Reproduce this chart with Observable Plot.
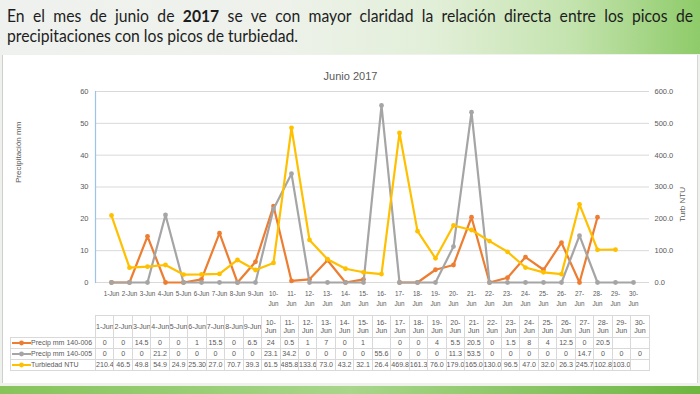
<!DOCTYPE html>
<html><head><meta charset="utf-8">
<script src="https://cdn.jsdelivr.net/npm/d3@7"></script>
<script src="https://cdn.jsdelivr.net/npm/@observablehq/plot@0.6"></script>
<style>
html,body{margin:0;padding:0;}
body{width:700px;height:394px;position:relative;overflow:hidden;background:#eef1ec;font-family:"Liberation Sans",sans-serif;}
#header{position:absolute;left:0;top:0;width:700px;height:54px;background:linear-gradient(to right,#eff1ee 0%,#eef2eb 40%,#e2efd8 62%,#c3e3ad 82%,#8ecb69 100%);}
.hl{position:absolute;left:7px;white-space:nowrap;font-family:Lato,"Open Sans",sans-serif;font-size:17px;color:#1d1d1d;transform-origin:0 0;}
#l1{top:5px} #l2{top:25px}
#panel{position:absolute;left:2px;top:55px;width:694px;height:328px;background:#fff;border-left:1px solid #cfcfcf;border-right:1px solid #d6d6d6;}
#band{position:absolute;left:0;top:386px;width:700px;height:8px;background:linear-gradient(to right,#86c45a,#a8d68a 50%,#6db640);}
#chart{position:absolute;left:0;top:56px;}
#tbl{position:absolute;left:10px;top:315px;border-collapse:collapse;table-layout:fixed;font-size:7.1px;color:#595959;}
#tbl td{border:1px solid #d9d9d9;text-align:center;padding:0;height:10px;line-height:8px;white-space:nowrap;overflow:hidden;}
#tbl tr.hd td{height:21px;}
#tbl td.blank{border:none;}
#tbl td.lab{text-align:left;padding-left:1px;font-size:7px;}
#tbl td.lab svg{vertical-align:middle;margin-right:0px;}
</style></head>
<body>
<div id="header"></div>
<div class="hl" id="l1">En el mes de junio de <b>2017</b> se ve con mayor claridad la relación directa entre los picos de</div>
<div class="hl" id="l2">precipitaciones con los picos de turbiedad.</div>
<div id="panel"></div>
<div id="band"></div>
<div id="chart"></div>
<table id="tbl"></table>
<script>
const days = ["1-Jun","2-Jun","3-Jun","4-Jun","5-Jun","6-Jun","7-Jun","8-Jun","9-Jun","10-Jun","11-Jun","12-Jun","13-Jun","14-Jun","15-Jun","16-Jun","17-Jun","18-Jun","19-Jun","20-Jun","21-Jun","22-Jun","23-Jun","24-Jun","25-Jun","26-Jun","27-Jun","28-Jun","29-Jun","30-Jun"];
const precip006 = ["0","0","14.5","0","0","1","15.5","0","6.5","24","0.5","1","7","0","1","","0","0","4","5.5","20.5","0","1.5","8","4","12.5","0","20.5","",""];
const precip005 = ["0","0","0","21.2","0","0","0","0","0","23.1","34.2","0","0","0","0","55.6","0","0","0","11.3","53.5","0","0","0","0","0","14.7","0","0","0"];
const turbiedad = ["210.4","46.5","49.8","54.9","24.9","25.30","27.0","70.7","39.3","61.5","485.8","133.6","73.0","43.2","32.1","26.4","469.8","161.3","76.0","179.0","165.0","130.0","96.5","47.0","32.0","26.3","245.7","102.8","103.0",""];
const precipTicks = [0,10,20,30,40,50,60];
const turbTicks = [0,100,200,300,400,500,600];
const seriesNames = ["Precip mm 140-006","Precip mm 140-005","Turbiedad NTU"];
const seriesColors = ["#ED7D31","#A5A5A5","#FFC000"];
const chartTitle = "Junio 2017";
const leftTitle = "Precipitación mm";
const rightTitle = "Turb NTU";

// header text fitting
(function(){
  const l1 = document.getElementById("l1"), l2 = document.getElementById("l2");
  const w2 = l2.getBoundingClientRect().width;
  const s = 291 / w2;
  const w1 = l1.getBoundingClientRect().width;
  const spaces = (l1.textContent.match(/ /g)||[]).length;
  l1.style.wordSpacing = ((686 / s - w1) / spaces) + "px";
  l1.style.transform = l2.style.transform = `scaleX(${s})`;
})();

const k = d3.max(precipTicks) / d3.max(turbTicks);
const num = s => s === "" ? null : +s;
const seriesData = [
  days.map((d,i) => ({day:d, v:num(precip006[i])})),
  days.map((d,i) => ({day:d, v:num(precip005[i])})),
  days.map((d,i) => ({day:d, v:num(turbiedad[i]) == null ? null : num(turbiedad[i]) * k}))
];

const marks = [
  Plot.ruleY(precipTicks, {stroke:"#d9d9d9", strokeWidth:1}),
  Plot.frame({anchor:"left", stroke:"#9dc3e6", strokeWidth:1.2}),
  Plot.axisY(precipTicks, {anchor:"left", tickSize:0, tickPadding:7, fontSize:7.5, label:null}),
  Plot.axisY(turbTicks.map(t => t * k), {anchor:"right", tickSize:0, tickPadding:5, fontSize:7.5, label:null, tickFormat: d => (d / k).toFixed(1)}),
  Plot.axisX({tickSize:0, tickPadding:6, fontSize:6.3, lineHeight:1.6, label:null, tickFormat: d => +d.split("-")[0] >= 10 ? d.replace("-", "-\n") : d}),
  Plot.text([chartTitle], {frameAnchor:"top", dx:-22, dy:-19, fontSize:11, fill:"#595959"}),
  Plot.text([leftTitle], {frameAnchor:"left", dx:-77, dy:-4, rotate:-90, fontSize:8, fill:"#595959"}),
  Plot.text([rightTitle], {frameAnchor:"right", dx:33, rotate:-90, fontSize:8, fill:"#595959"})
];
seriesData.forEach((data, i) => {
  marks.push(Plot.line(data, {x:"day", y:"v", stroke:seriesColors[i], strokeWidth:2.2}));
  marks.push(Plot.dot(data.filter(d => d.v != null), {x:"day", y:"v", fill:seriesColors[i], r:2.4}));
});

const chart = Plot.plot({
  width:700, height:256, marginTop:35, marginBottom:30, marginLeft:95, marginRight:51,
  style:{fontFamily:"'Liberation Sans', sans-serif", color:"#595959", background:"transparent", overflow:"visible"},
  x:{type:"point", domain:days, padding:0.5, label:null, axis:null},
  y:{domain:[0,60], label:null, axis:null},
  marks
});
document.getElementById("chart").appendChild(chart);

// data table
const tbl = document.getElementById("tbl");
const step = (700 - 95 - 51) / days.length;
let html = `<colgroup><col style="width:85px">` + days.map(() => `<col style="width:${step}px">`).join("") + `</colgroup>`;
html += `<tr class="hd"><td class="blank"></td>` + days.map(d => `<td>${+d.split("-")[0] >= 10 ? d.replace("-", "-<br>") : d}</td>`).join("") + `</tr>`;
[precip006, precip005, turbiedad].forEach((arr, i) => {
  const sw = `<svg width="19" height="6"><line x1="0" y1="3" x2="19" y2="3" stroke="${seriesColors[i]}" stroke-width="2"/><circle cx="9.5" cy="3" r="2.4" fill="${seriesColors[i]}"/></svg>`;
  html += `<tr><td class="lab">${sw}${seriesNames[i]}</td>` + arr.map(v => `<td>${v}</td>`).join("") + `</tr>`;
});
tbl.innerHTML = html;
tbl.style.width = (85 + step * days.length) + "px";
</script>
</body></html>
